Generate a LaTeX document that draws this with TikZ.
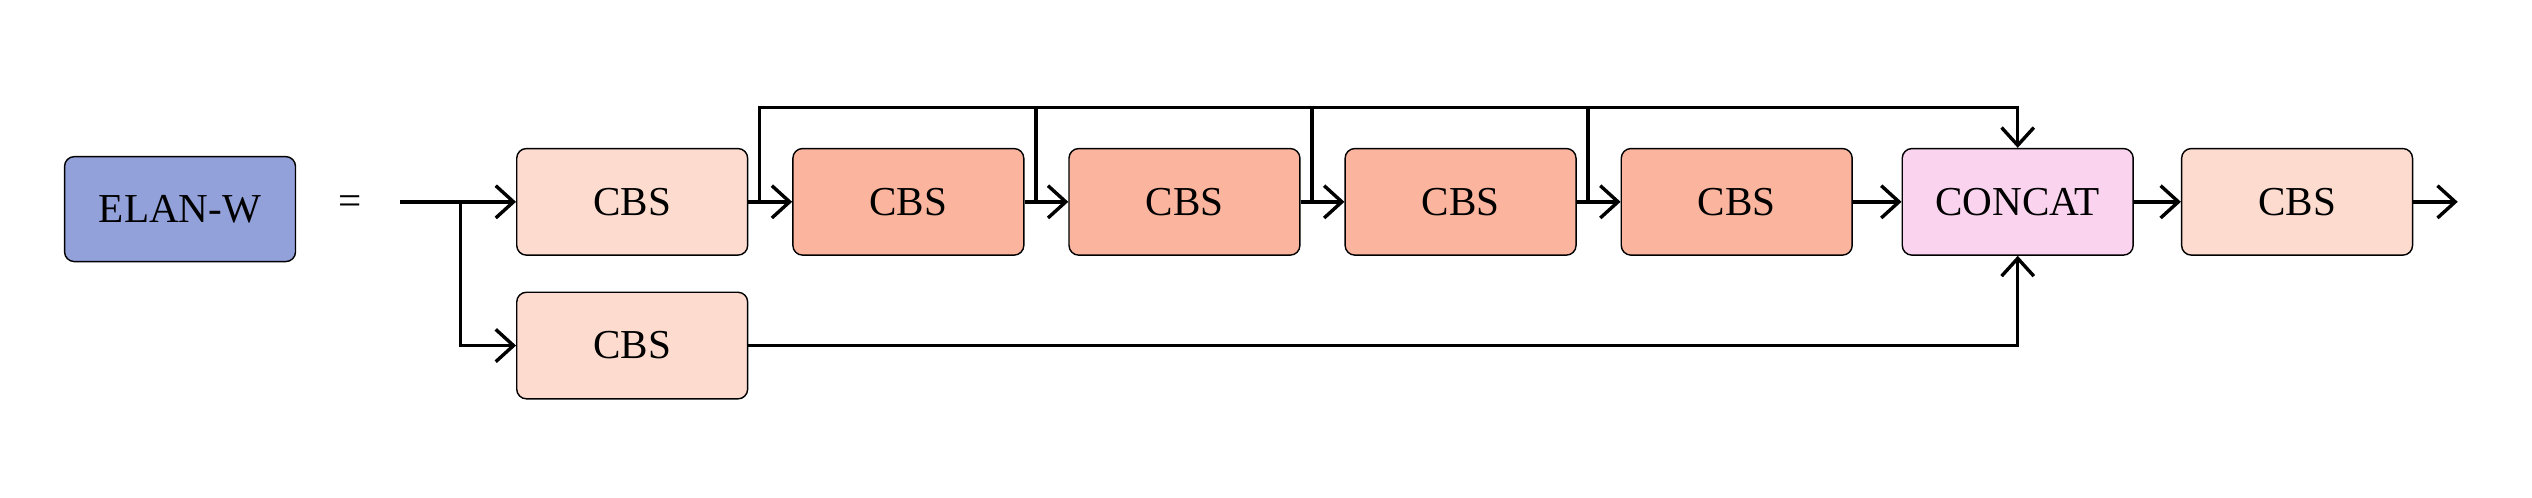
\documentclass[tikz,border=0pt]{standalone}
\usepackage{fontspec}
\setmainfont{Liberation Serif}
\usetikzlibrary{arrows.meta,calc}
\definecolor{elanc}{RGB}{147,161,219}
\definecolor{cbsl}{RGB}{253,219,207}
\definecolor{cbsd}{RGB}{251,181,158}
\definecolor{catc}{RGB}{250,212,239}
\tikzset{
  blk/.style={draw=black, line width=0.5pt, rounded corners=0.12cm, minimum width=2.86cm, minimum height=1.32cm, inner sep=0pt, font=\fontsize{14.5}{17}\selectfont},
  lcbs/.style={blk, fill=cbsl},
  dcbs/.style={blk, fill=cbsd},
  conn/.style={line width=1.2pt},
  arr/.style={conn, -{Straight Barb[length=2.2mm,width=4mm,line width=1.2pt]}}
}
\begin{document}
\begin{tikzpicture}
\useasboundingbox (0,0) rectangle (31.36,6.16);
\node[blk, fill=elanc, minimum height=1.3cm] (elan) at (2.23,3.57) {ELAN-W};
\node[font=\fontsize{14.5}{17}\selectfont] (eq) at (4.34,3.62) {=};
\node[lcbs] (c1) at (7.83,3.66) {CBS};
\node[dcbs] (c2) at (11.25,3.66) {CBS};
\node[dcbs] (c3) at (14.67,3.66) {CBS};
\node[dcbs] (c4) at (18.09,3.66) {CBS};
\node[dcbs] (c5) at (21.51,3.66) {CBS};
\node[blk, fill=catc] (cat) at (24.99,3.66) {CONCAT};
\node[lcbs] (o) at (28.45,3.66) {CBS};
\node[lcbs] (cb) at (7.83,1.88) {CBS};
\coordinate (in) at (4.96,3.66);
\coordinate (br) at (5.7,3.66);
\coordinate (out) at (30.44,3.66);
\coordinate (s1) at ($(c1.east)+(0.14,0)$);
\coordinate (s2) at ($(c2.east)+(0.14,0)$);
\coordinate (s3) at ($(c3.east)+(0.14,0)$);
\coordinate (s4) at ($(c4.east)+(0.14,0)$);
\coordinate (top) at ($(cat.north)+(0,0.5)$);
% main chain
\draw[arr] (in) -- (c1.west);
\draw[arr] (br) |- (cb.west);
\draw[arr] (c1.east) -- (c2.west);
\draw[arr] (c2.east) -- (c3.west);
\draw[arr] (c3.east) -- (c4.west);
\draw[arr] (c4.east) -- (c5.west);
\draw[arr] (c5.east) -- (cat.west);
\draw[arr] (cat.east) -- (o.west);
\draw[arr] (o.east) -- (out);
% skip connections
\draw[arr] (s1) |- (top) -- (cat.north);
\draw[conn] (s2) -- (s2 |- top);
\draw[conn] (s3) -- (s3 |- top);
\draw[conn] (s4) -- (s4 |- top);
\draw[arr] (cb.east) -| (cat.south);
\end{tikzpicture}
\end{document}
